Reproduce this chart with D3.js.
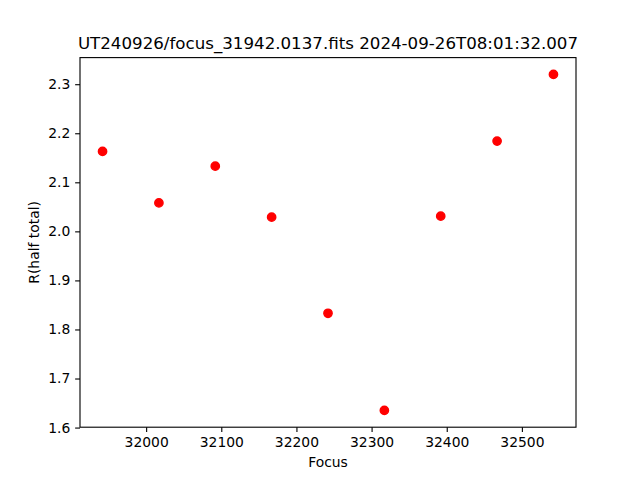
<!DOCTYPE html>
<html><head><meta charset="utf-8">
<script src="https://cdn.jsdelivr.net/npm/d3@7"></script>
<style>body{margin:0;background:#fff}svg{display:block}text{font-family:"DejaVu Sans",sans-serif;fill:#000}</style>
</head><body>
<script>
const focus = [31942, 32017, 32092, 32167, 32242, 32317, 32392, 32467, 32542];
const radius = [2.163, 2.058, 2.133, 2.029, 1.833, 1.635, 2.031, 2.184, 2.320];
const xTicks = [32000, 32100, 32200, 32300, 32400, 32500];
const yTicks = [1.6, 1.7, 1.8, 1.9, 2.0, 2.1, 2.2, 2.3];
const title = "UT240926/focus_31942.0137.fits 2024-09-26T08:01:32.007";

const W = 640, H = 480;
const L = 80, R = 576, T = 57.6, B = 427.2;
const svg = d3.select("body").append("svg").attr("width", W).attr("height", H);

function padDomain(v){ const a=d3.min(v), b=d3.max(v), r=b-a; return [a-0.05*r, b+0.05*r]; }
const x = d3.scaleLinear().domain(padDomain(focus)).range([L, R]);
const y = d3.scaleLinear().domain(padDomain(radius)).range([B, T]);

svg.append("g").selectAll("circle").data(focus).join("circle")
  .attr("cx", (d,i)=>x(d)).attr("cy", (d,i)=>y(radius[i])).attr("r", 4.17)
  .attr("fill", "#ff0000").attr("stroke", "#ff0000").attr("stroke-width", 1.39);

const xAxis = svg.append("g").attr("transform", `translate(0,${B})`)
  .call(d3.axisBottom(x).tickValues(xTicks).tickFormat(d3.format("d")).tickSize(4.86).tickPadding(4.86));
const yAxis = svg.append("g").attr("transform", `translate(${L},0)`)
  .call(d3.axisLeft(y).tickValues(yTicks).tickFormat(d3.format(".1f")).tickSize(4.86).tickPadding(4.86));
[xAxis, yAxis].forEach(g=>{
  g.select(".domain").remove();
  g.selectAll(".tick line").attr("stroke","#000").attr("stroke-width",1.11);
  g.selectAll(".tick text").attr("font-size","13.89px").attr("font-family","DejaVu Sans").attr("fill","#000");
});

svg.append("rect").attr("x", L).attr("y", T).attr("width", R-L).attr("height", B-T)
  .attr("fill","none").attr("stroke","#000").attr("stroke-width",1.11);

svg.append("text").attr("x",(L+R)/2).attr("y",49).attr("text-anchor","middle").attr("font-size","16.67px").text(title);
svg.append("text").attr("x",(L+R)/2).attr("y",467).attr("text-anchor","middle").attr("font-size","13.89px").text("Focus");
svg.append("text").attr("transform",`translate(39,${(T+B)/2}) rotate(-90)`).attr("text-anchor","middle").attr("font-size","13.89px").text("R(half total)");
</script>
</body></html>
